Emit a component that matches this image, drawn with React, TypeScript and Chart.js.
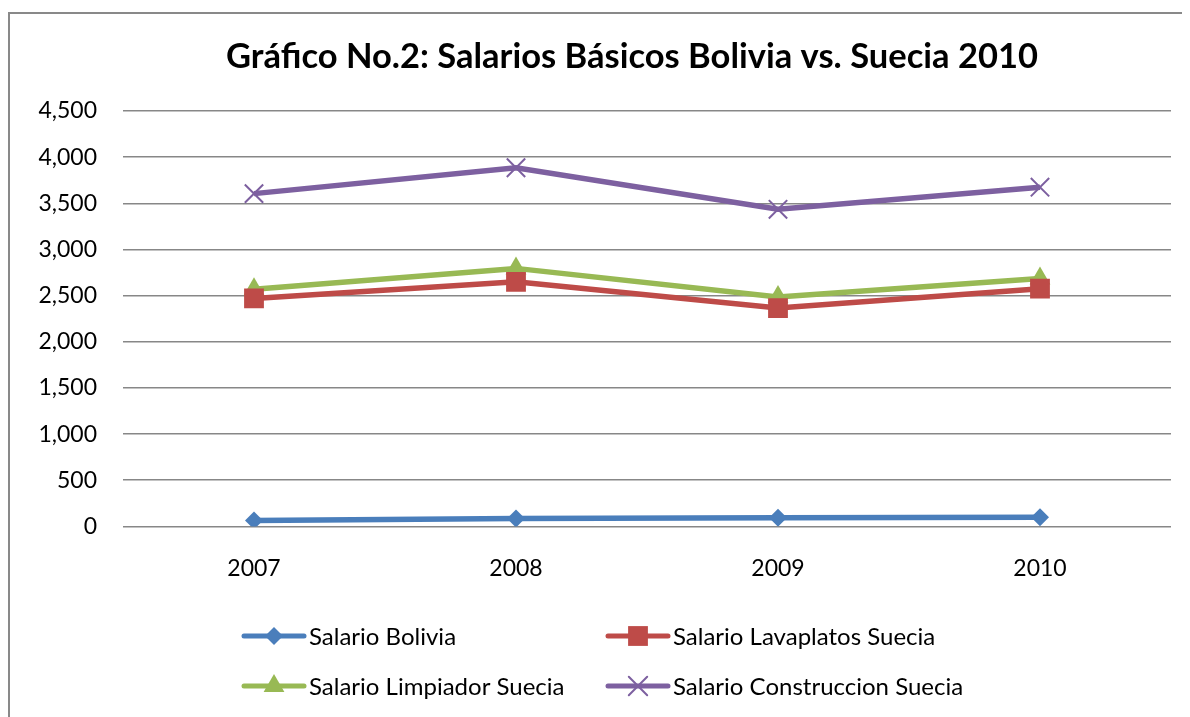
import React, { useEffect, useRef } from "react";
import { Chart, registerables } from "chart.js";

Chart.register(...registerables);

const years = ["2007", "2008", "2009", "2010"];
const seriesNames = [
  "Salario Bolivia",
  "Salario Lavaplatos Suecia",
  "Salario Limpiador Suecia",
  "Salario Construccion Suecia",
];
const bolivia = [65, 85, 95, 100];
const lavaplatos = [2470, 2650, 2365, 2575];
const limpiador = [2570, 2795, 2485, 2685];
const construccion = [3605, 3885, 3435, 3675];
const yTicks = [0, 500, 1000, 1500, 2000, 2500, 3000, 3500, 4000, 4500];

const titleText = "Gráfico No.2: Salarios Básicos Bolivia vs. Suecia 2010";
const FONT = "Lato, 'Open Sans', sans-serif";

const colors = ["#4A7EBB", "#BE4B48", "#98B954", "#7D60A0"];
const styles = ["rectRot", "rect", "triangle", "crossRot"];
const radii = [9, 14, 12, 13];

function drawMarker(ctx: CanvasRenderingContext2D, style: string, x: number, y: number, r: number, color: string) {
  ctx.save();
  ctx.fillStyle = color;
  ctx.strokeStyle = color;
  ctx.beginPath();
  if (style === "rectRot") {
    ctx.moveTo(x, y - r);
    ctx.lineTo(x + r, y);
    ctx.lineTo(x, y + r);
    ctx.lineTo(x - r, y);
    ctx.closePath();
    ctx.fill();
  } else if (style === "rect") {
    const s = Math.SQRT1_2 * r;
    ctx.rect(x - s, y - s, 2 * s, 2 * s);
    ctx.fill();
  } else if (style === "triangle") {
    let rad = 0;
    ctx.moveTo(x + Math.sin(rad) * r, y - Math.cos(rad) * r);
    rad += (2 * Math.PI) / 3;
    ctx.lineTo(x + Math.sin(rad) * r, y - Math.cos(rad) * r);
    rad += (2 * Math.PI) / 3;
    ctx.lineTo(x + Math.sin(rad) * r, y - Math.cos(rad) * r);
    ctx.closePath();
    ctx.fill();
  } else {
    const d = Math.SQRT1_2 * r;
    ctx.lineWidth = 2;
    ctx.moveTo(x - d, y - d);
    ctx.lineTo(x + d, y + d);
    ctx.moveTo(x + d, y - d);
    ctx.lineTo(x - d, y + d);
    ctx.stroke();
  }
  ctx.restore();
}

const decorPlugin = {
  id: "decor",
  afterDraw(chart: any) {
    const ctx: CanvasRenderingContext2D = chart.ctx;
    ctx.save();
    // outer border (left and top visible)
    ctx.strokeStyle = "#898989";
    ctx.lineWidth = 2;
    ctx.beginPath();
    ctx.moveTo(1, 5);
    ctx.lineTo(1, chart.height + 10);
    ctx.moveTo(0, 5);
    ctx.lineTo(chart.width + 10, 5);
    ctx.stroke();

    // title, centred on the full chart box
    ctx.fillStyle = "#000";
    ctx.font = "bold 34.5px " + FONT;
    ctx.textAlign = "center";
    ctx.textBaseline = "alphabetic";
    ctx.fillText(titleText, chart.width / 2, 60);

    // legend
    const cols = [236, 600];
    const rows = [628, 678];
    const lineLen = 60;
    ctx.font = "24px " + FONT;
    ctx.textBaseline = "middle";
    ctx.textAlign = "left";
    for (let i = 0; i < 4; i++) {
      const cx = cols[i % 2];
      const cy = rows[Math.floor(i / 2)];
      ctx.strokeStyle = colors[i];
      ctx.lineWidth = 5;
      ctx.lineCap = "round";
      ctx.beginPath();
      ctx.moveTo(cx, cy);
      ctx.lineTo(cx + lineLen, cy);
      ctx.stroke();
      drawMarker(ctx, styles[i], cx + lineLen / 2, cy, radii[i], colors[i]);
      ctx.fillStyle = "#000";
      ctx.fillText(seriesNames[i], cx + lineLen + 5, cy + 1);
    }
    ctx.restore();
  },
};

export default function App() {
  const ref = useRef<HTMLCanvasElement | null>(null);
  useEffect(() => {
    if (!ref.current) return;
    const values = [bolivia, lavaplatos, limpiador, construccion];
    const chart = new Chart(ref.current, {
      type: "line",
      data: {
        labels: years,
        datasets: values.map((v, i) => ({
          label: seriesNames[i],
          data: v,
          borderColor: colors[i],
          backgroundColor: colors[i],
          borderWidth: 5.5,
          pointStyle: styles[i] as any,
          pointRadius: radii[i],
          pointHoverRadius: radii[i],
          pointBorderWidth: i === 3 ? 2 : 0,
          pointBackgroundColor: colors[i],
          pointBorderColor: colors[i],
          tension: 0,
          fill: false,
        })),
      },
      options: {
        responsive: false,
        animation: false,
        layout: { padding: { left: 0, right: 85, top: 103, bottom: 107 } },
        plugins: {
          legend: { display: false },
          tooltip: { enabled: false },
          title: { display: false },
        },
        scales: {
          x: {
            offset: true,
            grid: { display: false, drawTicks: false },
            border: { display: false },
            ticks: { color: "#000", font: { family: FONT, size: 23 }, padding: 28 },
          },
          y: {
            min: yTicks[0],
            max: yTicks[yTicks.length - 1],
            afterFit: (scale: any) => {
              scale.width = 115;
            },
            afterBuildTicks: (scale: any) => {
              scale.ticks = yTicks.map((v) => ({ value: v }));
            },
            grid: { color: "#878787", lineWidth: 1.5, drawTicks: false },
            border: { display: false },
            ticks: {
              color: "#000",
              font: { family: FONT, size: 23 },
              padding: 26,
              callback: (v: any) => Number(v).toLocaleString("en-US"),
            },
          },
        },
      },
      plugins: [decorPlugin],
    });
    return () => chart.destroy();
  }, []);
  return (
    <div style={{ width: 1182, height: 709, overflow: "hidden", position: "relative", background: "#fff" }}>
      <canvas ref={ref} width={1248} height={709} style={{ width: 1248, height: 709, display: "block" }} />
    </div>
  );
}
